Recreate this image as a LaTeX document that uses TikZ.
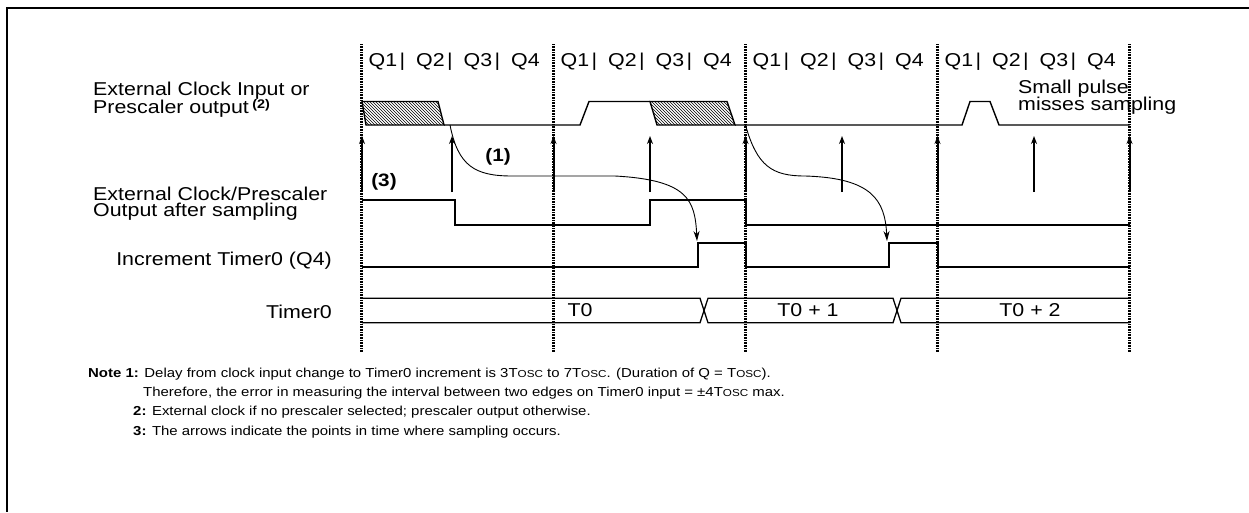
\documentclass[tikz,border=0pt]{standalone}
\usepackage{fontspec}
\setmainfont[FakeStretch=1.15]{Liberation Sans}
\usetikzlibrary{positioning, patterns, arrows, arrows.meta}

\newcommand{\tosc}{T\scalebox{0.78}{OSC}}

\begin{document}
\begin{tikzpicture}[x=1pt, y=-1pt,
        cycleline/.style={line width=2.6pt, dash pattern=on 0.8pt off 0.8pt},
        wave/.style={line width=2pt, line join=miter},
        thinwave/.style={line width=1.4pt, line join=miter},
        hatched/.style={line width=1.4pt, pattern=north west lines},
        bus/.style={line width=1.3pt},
        sample/.style={line width=2pt, -{Stealth[length=8pt, width=6pt]}},
        delay/.style={line width=0.9pt, -{Stealth[length=10pt, width=6pt]}},
        txt/.style={inner sep=0pt, font=\fontsize{18.6}{20}\selectfont},
        note/.style={inner sep=0pt, font=\fontsize{13}{15}\selectfont}]
    \useasboundingbox (0,0) rectangle (1249,512);
    \draw [line width=1.8pt] (1249,8) -- (7,8) -- (7,512);

    % cycle boundaries
    \draw [cycleline] (361.5,44) -- (361.5,352);
    \draw [cycleline] (553.5,44) -- (553.5,352);
    \draw [cycleline] (745.5,44) -- (745.5,352);
    \draw [cycleline] (937.5,44) -- (937.5,352);
    \draw [cycleline] (1129.5,44) -- (1129.5,352);

    % quarter labels
    \node (qa1) [txt, anchor=base west] at (368.5,66) {Q1\hspace{2.5pt}|};
    \node (qa2) [txt, anchor=base west] at (416,66)   {Q2\hspace{2.5pt}|};
    \node (qa3) [txt, anchor=base west] at (463.5,66) {Q3\hspace{2.5pt}|};
    \node (qa4) [txt, anchor=base west] at (511,66)   {Q4};
    \node (qb1) [txt, anchor=base west] at (560.5,66) {Q1\hspace{2.5pt}|};
    \node (qb2) [txt, anchor=base west] at (608,66)   {Q2\hspace{2.5pt}|};
    \node (qb3) [txt, anchor=base west] at (655.5,66) {Q3\hspace{2.5pt}|};
    \node (qb4) [txt, anchor=base west] at (703,66)   {Q4};
    \node (qc1) [txt, anchor=base west] at (752.5,66) {Q1\hspace{2.5pt}|};
    \node (qc2) [txt, anchor=base west] at (800,66)   {Q2\hspace{2.5pt}|};
    \node (qc3) [txt, anchor=base west] at (847.5,66) {Q3\hspace{2.5pt}|};
    \node (qc4) [txt, anchor=base west] at (895,66)   {Q4};
    \node (qd1) [txt, anchor=base west] at (944.5,66) {Q1\hspace{2.5pt}|};
    \node (qd2) [txt, anchor=base west] at (992,66)   {Q2\hspace{2.5pt}|};
    \node (qd3) [txt, anchor=base west] at (1039.5,66) {Q3\hspace{2.5pt}|};
    \node (qd4) [txt, anchor=base west] at (1087,66)  {Q4};

    % signal names
    \node (extclkA) [txt, anchor=base west] at (93,95.5)  {External Clock Input or};
    \node (extclkB) [txt, anchor=base west] at (93,113.5) {Prescaler output};
    \node (fn2) [inner sep=0pt, anchor=base west, font=\fontsize{12.5}{12.5}\selectfont\bfseries]
        at ([xshift=3pt, yshift=5pt]extclkB.base east) {(2)};
    \node (syncA)   [txt, anchor=base west] at (93,200) {External Clock/Prescaler};
    \node (syncB)   [txt, anchor=base west] at (93,216.5) {Output after sampling};
    \node (incr)    [txt, anchor=base east] at (332,265) {Increment Timer0 (Q4)};
    \node (tmr)     [txt, anchor=base east] at (332,318) {Timer0};

    % external clock input
    \draw [hatched] (362,101.5) -- (438,101.5) -- (444,125) -- (366,125) -- cycle;
    \draw [thinwave] (444,125) -- (580,125) -- (589,101.5) -- (650,101.5);
    \draw [hatched] (650,101.5) -- (727,101.5) -- (735,125) -- (657,125) -- cycle;
    \draw [thinwave] (735,125) -- (962,125) -- (970,101.5) -- (990,101.5) -- (999,125) -- (1129.5,125);
    \node (pulseA) [txt, anchor=base west] at (1018,93)  {Small pulse};
    \node (pulseB) [txt, anchor=base west] at (1018,110) {misses sampling};

    % sampling points
    \coordinate (smp1) at (362,192);
    \coordinate (smp2) at (452,192);
    \coordinate (smp3) at (553.5,192);
    \coordinate (smp4) at (650,192);
    \coordinate (smp5) at (745.5,192);
    \coordinate (smp6) at (842,192);
    \coordinate (smp7) at (937.5,192);
    \coordinate (smp8) at (1034,192);
    \coordinate (smp9) at (1129.5,192);
    \draw [sample] (smp1) -- ++(0,-56);
    \draw [sample] (smp2) -- ++(0,-56);
    \draw [sample] (smp3) -- ++(0,-56);
    \draw [sample] (smp4) -- ++(0,-56);
    \draw [sample] (smp5) -- ++(0,-56);
    \draw [sample] (smp6) -- ++(0,-56);
    \draw [sample] (smp7) -- ++(0,-56);
    \draw [sample] (smp8) -- ++(0,-56);
    \draw [sample] (smp9) -- ++(0,-56);
    \node (nt1) [txt, font=\fontsize{18}{19}\selectfont\bfseries] at (498,157) {(1)};
    \node (nt3) [txt, font=\fontsize{18}{19}\selectfont\bfseries] at (384,182) {(3)};

    % sampled clock and increment
    \draw [wave] (362,200) -- (455,200) -- (455,225) -- (650,225) -- (650,200) -- (745.5,200) -- (745.5,225) -- (1129.5,225);
    \draw [wave] (362,266.7) -- (698,266.7) -- (698,242.7) -- (745.5,242.7) -- (745.5,266.7) -- (889,266.7)
        -- (889,242.7) -- (937.5,242.7) -- (937.5,266.7) -- (1129.5,266.7);

    % delay from edge to increment
    \coordinate (fallA) at (450,125);
    \coordinate (incA)  at (697,241);
    \coordinate (fallB) at (745.5,125);
    \coordinate (incB)  at (887,241);
    \draw [delay] (fallA) .. controls (458,166) and (475,176) .. (512,176) -- (615,176)
        .. controls (688,180) and (695,200) .. (incA);
    \draw [delay] (fallB) .. controls (757,166) and (772,176) .. (805,176)
        .. controls (872,178) and (885,200) .. (incB);

    % timer0 value
    \draw [bus] (362,298.3) -- (700,298.3) -- (708,322.7) -- (893,322.7) -- (901,298.3) -- (1129.5,298.3);
    \draw [bus] (362,322.7) -- (700,322.7) -- (708,298.3) -- (893,298.3) -- (901,322.7) -- (1129.5,322.7);
    \node (val0) [txt] at (580,310.5)  {T0};
    \node (val1) [txt] at (808,310.5)  {T0 + 1};
    \node (val2) [txt] at (1030,310.5) {T0 + 2};

    % notes
    \node (noteA) [note, anchor=base west] at (88,377) {\bfseries Note 1:\mdseries{} Delay from clock input change to Timer0 increment is 3\tosc{} to 7\tosc. (Duration of Q = \tosc).};
    \node (noteB) [note, anchor=base west] at (143,396) {Therefore, the error in measuring the interval between two edges on Timer0 input = ±4\tosc{} max.};
    \node (noteC) [note, anchor=base west] at (133,415) {\bfseries 2:\mdseries{} External clock if no prescaler selected; prescaler output otherwise.};
    \node (noteD) [note, anchor=base west] at (133,435) {\bfseries 3:\mdseries{} The arrows indicate the points in time where sampling occurs.};
\end{tikzpicture}
\end{document}
